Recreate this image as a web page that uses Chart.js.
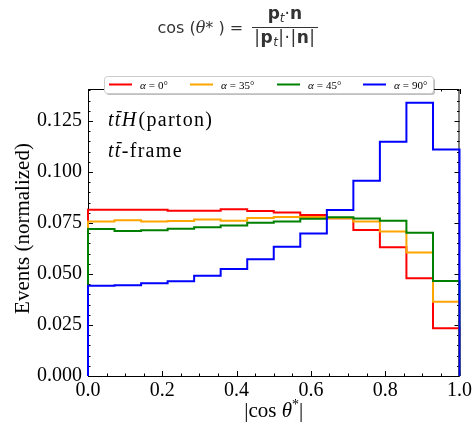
<!DOCTYPE html>
<html>
<head>
<meta charset="utf-8">
<script src="https://cdn.jsdelivr.net/npm/chart.js@4"></script>
<style>
  body { margin: 0; background: #fff; }
  #wrap { position: relative; width: 475px; height: 424px; }
  #c { position: absolute; left: 0; top: 0; }
  #title {
    position: absolute; left: 0; top: 5px; width: 475px; text-align: center;
    font-family: "DejaVu Sans", sans-serif; font-size: 16px; color: #333; z-index: 2;
  }
  .frac { display: inline-block; vertical-align: middle; text-align: center; font-size: 17px; margin-left: 4px; }
  .num { display: block; border-bottom: 1px solid #333; padding: 0 2px 1px; line-height: 16px; }
  .den { display: block; padding: 1px 2px 0; line-height: 17px; letter-spacing: 0.5px; }
  .frac sub { font-size: 12px; vertical-align: -3px; }
  .th { font-family: "DejaVu Serif", serif; font-style: italic; }
</style>
</head>
<body>
<div id="wrap">
  <div id="title">cos (<span class="th">θ</span>* ) = <span class="frac"><span class="num"><b>p</b><sub><i>t</i></sub>·<b>n</b></span><span class="den">|<b>p</b><sub><i>t</i></sub>|·|<b>n</b>|</span></span></div>
  <canvas id="c" width="475" height="424"></canvas>
</div>
<script>
// bin edges of the |cos theta*| histogram
const binEdges = [0, 0.0714, 0.1429, 0.2143, 0.2857, 0.3571, 0.4286, 0.5, 0.5714, 0.6429, 0.7143, 0.7857, 0.8571, 0.9286, 1.0];

const seriesLabels = ['0°', '35°', '45°', '90°'];
const seriesColors = ['#ff0000', '#ffa500', '#008000', '#0000ff'];

const alpha0  = [0.0815, 0.0815, 0.0815, 0.0810, 0.0810, 0.0817, 0.0809, 0.0802, 0.0789, 0.0773, 0.0716, 0.0631, 0.0479, 0.0234];
const alpha35 = [0.0758, 0.0763, 0.0757, 0.0760, 0.0767, 0.0761, 0.0775, 0.0779, 0.0780, 0.0773, 0.0758, 0.0708, 0.0605, 0.0364];
const alpha45 = [0.0721, 0.0711, 0.0714, 0.0722, 0.0729, 0.0738, 0.0751, 0.0758, 0.0771, 0.0778, 0.0772, 0.0761, 0.0702, 0.0466];
const alpha90 = [0.0443, 0.0445, 0.0455, 0.0465, 0.0492, 0.0524, 0.0572, 0.0634, 0.0699, 0.0814, 0.0957, 0.1149, 0.1340, 0.1111];

const xTickValues = [0, 0.2, 0.4, 0.6, 0.8, 1.0];
const yTickValues = [0, 0.025, 0.05, 0.075, 0.1, 0.125];

const SERIF = '"Liberation Serif", "Times New Roman", serif';

// outline of a step histogram, dropping to zero at both ends
function stepPoints(vals) {
  const pts = [{ x: binEdges[0], y: 0 }];
  vals.forEach((v, i) => pts.push({ x: binEdges[i], y: v }));
  pts.push({ x: binEdges[binEdges.length - 1], y: vals[vals.length - 1] });
  pts.push({ x: binEdges[binEdges.length - 1], y: 0 });
  return pts;
}

const allSeries = [alpha0, alpha35, alpha45, alpha90];
const datasets = allSeries.map((vals, i) => ({
  label: seriesLabels[i],
  data: stepPoints(vals),
  borderColor: seriesColors[i],
  borderWidth: 2,
  pointRadius: 0,
  stepped: true,
  fill: false,
  borderJoinStyle: 'miter',
  clip: 4,
  order: 4 - i
}));

function drawRuns(ctx, x, y, runs) {
  runs.forEach(r => {
    ctx.font = r.font;
    const w = ctx.measureText(r.text).width;
    ctx.fillText(r.text, x, y + (r.dy || 0));
    if (r.bar) {
      ctx.fillRect(x + 2, y - 15, w - 2, 1.3);
    }
    x += w + (r.gap || 0);
  });
  return x;
}

const framePlugin = {
  id: 'frame',
  beforeDatasetsDraw(chart) {
    const { ctx, chartArea: a, scales: { x, y } } = chart;
    ctx.save();
    ctx.strokeStyle = '#000';
    ctx.lineWidth = 1;
    ctx.strokeRect(a.left + 0.5, a.top + 0.5, a.right - a.left - 1, a.bottom - a.top);
    ctx.beginPath();
    for (let v = 0; v <= 1.0001; v += 0.05) {
      const px = Math.round(x.getPixelForValue(v)) + 0.5;
      const major = Math.abs(v / 0.2 - Math.round(v / 0.2)) < 1e-6;
      const len = major ? 5 : 2.5;
      ctx.moveTo(px, a.bottom); ctx.lineTo(px, a.bottom - len);
      ctx.moveTo(px, a.top); ctx.lineTo(px, a.top + len);
    }
    for (let v = 0; v <= 0.1401; v += 0.005) {
      const py = Math.round(y.getPixelForValue(v)) + 0.5;
      const major = Math.abs(v / 0.025 - Math.round(v / 0.025)) < 1e-6;
      const len = major ? 5 : 2.5;
      ctx.moveTo(a.left, py); ctx.lineTo(a.left + len, py);
      ctx.moveTo(a.right, py); ctx.lineTo(a.right - len, py);
    }
    ctx.stroke();
    ctx.restore();
  },
  afterDraw(chart) {
    const { ctx, chartArea: a } = chart;
    ctx.save();
    ctx.fillStyle = '#000';
    ctx.textBaseline = 'alphabetic';
    ctx.textAlign = 'left';
    ctx.letterSpacing = '1.3px';
    const it = 'italic 20px ' + SERIF, rm = '20px ' + SERIF;
    drawRuns(ctx, 108, 126, [
      { text: 't', font: it }, { text: 't', font: it, bar: true }, { text: 'H', font: it, gap: 1 },
      { text: '(parton)', font: rm }
    ]);
    drawRuns(ctx, 108, 157, [
      { text: 't', font: it }, { text: 't', font: it, bar: true }, { text: '-frame', font: rm }
    ]);
    ctx.letterSpacing = '0px';

    // x axis title
    const xt = 'italic 21px ' + SERIF, xr = '21px ' + SERIF;
    const parts = [{ text: '|cos ', font: xr }, { text: 'θ', font: xt }, { text: '*', font: '14px ' + SERIF, dy: -8 }, { text: '|', font: xr }];
    let tw = 0;
    parts.forEach(p => { ctx.font = p.font; tw += ctx.measureText(p.text).width; });
    drawRuns(ctx, (a.left + a.right) / 2 - tw / 2, 417, parts);

    // y axis title
    ctx.save();
    ctx.translate(29, (a.top + a.bottom) / 2 - 4);
    ctx.rotate(-Math.PI / 2);
    ctx.font = '21px ' + SERIF;
    ctx.textAlign = 'center';
    ctx.fillText('Events (normalized)', 0, 0);
    ctx.restore();

    // legend box
    const bx = 104, by = 76, bw = 329, bh = 17;
    ctx.save();
    ctx.fillStyle = 'rgba(0,0,0,0.25)';
    ctx.beginPath(); ctx.roundRect(bx + 2, by + 2, bw, bh, 3); ctx.fill();
    ctx.fillStyle = '#fff';
    ctx.strokeStyle = '#cccccc';
    ctx.lineWidth = 1;
    ctx.beginPath(); ctx.roundRect(bx + 0.5, by + 0.5, bw, bh, 3); ctx.fill(); ctx.stroke();
    ctx.restore();
    const lx = [109, 190, 277, 363];
    const ly = 84.5;
    chart.data.datasets.forEach((ds, i) => {
      ctx.strokeStyle = ds.borderColor;
      ctx.lineWidth = 2;
      ctx.beginPath(); ctx.moveTo(lx[i], ly); ctx.lineTo(lx[i] + 23, ly); ctx.stroke();
      ctx.fillStyle = '#000';
      drawRuns(ctx, lx[i] + 31, ly + 4, [
        { text: 'α', font: 'italic 11px ' + SERIF, gap: 3 },
        { text: '=', font: '11px ' + SERIF, gap: 3 },
        { text: ds.label, font: '11px ' + SERIF }
      ]);
    });
    ctx.restore();
  }
};

new Chart(document.getElementById('c'), {
  type: 'line',
  data: { datasets },
  plugins: [framePlugin],
  options: {
    responsive: false,
    animation: false,
    devicePixelRatio: 1,
    layout: { padding: { top: 89, right: 15, left: 0, bottom: 0 } },
    plugins: { legend: { display: false }, tooltip: { enabled: false } },
    scales: {
      x: {
        type: 'linear', min: 0, max: 1,
        afterBuildTicks: s => { s.ticks = xTickValues.map(v => ({ value: v })); },
        afterFit: s => { s.height = 48; },
        grid: { display: false, drawTicks: false },
        border: { display: false },
        ticks: {
          color: '#000', padding: 3, maxRotation: 0, autoSkip: false,
          font: { family: SERIF, size: 20 },
          callback: v => v.toFixed(1)
        }
      },
      y: {
        type: 'linear', min: 0, max: 0.1407,
        afterBuildTicks: s => { s.ticks = yTickValues.map(v => ({ value: v })); },
        afterFit: s => { s.width = 88; },
        grid: { display: false, drawTicks: false },
        border: { display: false },
        ticks: {
          color: '#000', padding: 6, autoSkip: false,
          font: { family: SERIF, size: 20 },
          callback: v => v.toFixed(3)
        }
      }
    }
  }
});
</script>
</body>
</html>
